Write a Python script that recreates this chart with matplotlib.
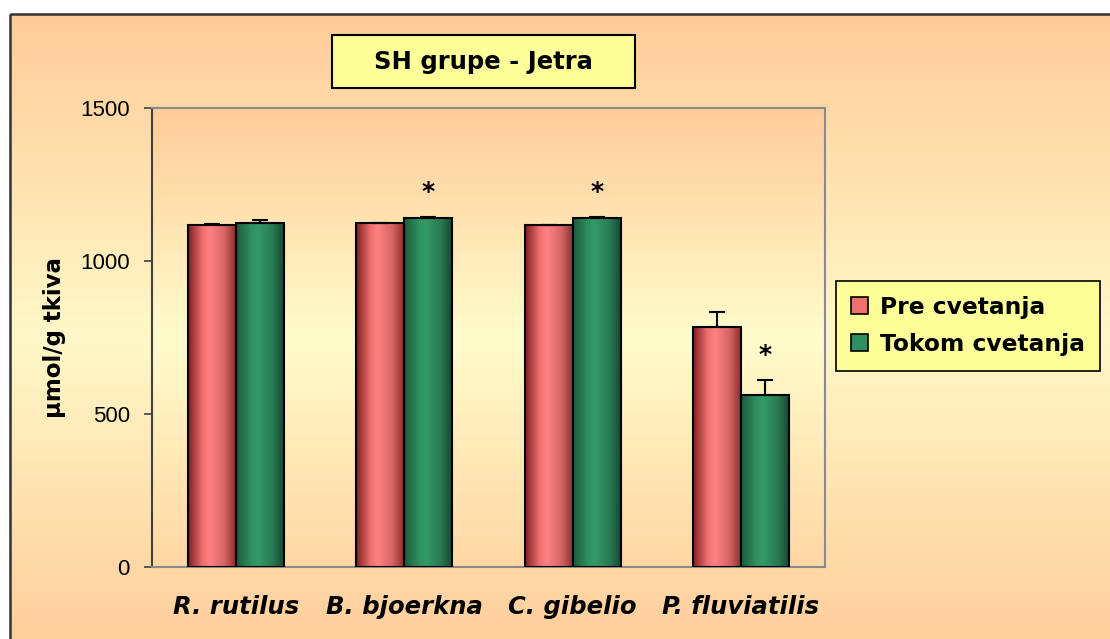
import numpy as np
import matplotlib
matplotlib.use('Agg')
import matplotlib.pyplot as plt
from matplotlib.colors import LinearSegmentedColormap
from matplotlib.patches import Rectangle, Patch

species = ['R. rutilus', 'B. bjoerkna', 'C. gibelio', 'P. fluviatilis']
series_names = ['Pre cvetanja', 'Tokom cvetanja']
pre_vals = [1117, 1123, 1117, 784]
pre_err = [5, 2, 2, 49]
tokom_vals = [1123, 1141, 1141, 563]
tokom_err = [10, 2, 2, 49]
significant = [False, True, True, True]   # star over the "Tokom" bar
yticks = [0, 500, 1000, 1500]

W, H = 1110, 639
fig = plt.figure(figsize=(W / 100, H / 100), dpi=100)
fig.patch.set_facecolor('white')

# chart area background: orange -> pale yellow -> orange
bg_cmap = LinearSegmentedColormap.from_list(
    'bg', [(0, '#ffcc99'), (0.5, '#fff8c8'), (1, '#ffcc99')])
ax_bg = fig.add_axes([0, 0, 1, 1], zorder=0)
ax_bg.set_xlim(0, W)
ax_bg.set_ylim(H, 0)
ax_bg.axis('off')
ax_bg.imshow(np.linspace(0, 1, 256).reshape(-1, 1), extent=(10, W + 20, 660, 14),
             aspect='auto', cmap=bg_cmap, interpolation='bicubic')
ax_bg.add_patch(Rectangle((10, 14), W + 50, H + 50, fill=False,
                          edgecolor='#333333', lw=1.8))

ax = fig.add_axes([152 / W, 1 - 567 / H, 673 / W, 459 / H], zorder=1)
ax.patch.set_visible(False)

plot_cmap = LinearSegmentedColormap.from_list(
    'plot', [(0, '#ffcc99'), (0.5, '#fffccc'), (1, '#ffd7a4')])
ax.imshow(np.linspace(0, 1, 256).reshape(-1, 1), extent=(0, 4, 0, 1500),
          aspect='auto', cmap=plot_cmap, interpolation='bicubic', zorder=0)

red_cmap = LinearSegmentedColormap.from_list(
    'red', [(0, '#7e1e1e'), (0.3, '#f07070'), (0.45, '#ff8282'),
            (0.75, '#d46464'), (1, '#8a2a2a')])
green_cmap = LinearSegmentedColormap.from_list(
    'green', [(0, '#1c5a3a'), (0.3, '#2e8f5f'), (0.45, '#349a67'),
              (0.75, '#287a52'), (1, '#164430')])

x = np.arange(len(species)) + 0.5
bw = 0.286
hgrad = np.linspace(0, 1, 256).reshape(1, -1)


def shaded_bars(xpos, vals, err, cmap, label):
    bars = ax.bar(xpos, vals, width=bw, facecolor='none', edgecolor='black',
                  lw=1.5, zorder=3, label=label)
    for b in bars:
        im = ax.imshow(hgrad, extent=(b.get_x(), b.get_x() + b.get_width(), 0, b.get_height()),
                       aspect='auto', cmap=cmap, interpolation='bicubic', zorder=2)
        im.set_clip_path(b)
    ax.errorbar(xpos, vals, yerr=[np.zeros(len(vals)), err], fmt='none',
                ecolor='black', elinewidth=1.5, capsize=5.5, capthick=1.5, zorder=4)
    return bars


shaded_bars(x - bw / 2, pre_vals, pre_err, red_cmap, series_names[0])
shaded_bars(x + bw / 2, tokom_vals, tokom_err, green_cmap, series_names[1])

for xi, v, e, s in zip(x + bw / 2, tokom_vals, tokom_err, significant):
    if s:
        ax.text(xi, v + e + 82, '*', ha='center', va='center',
                fontsize=18, fontweight='bold', fontfamily='DejaVu Sans', zorder=5)

ax.set_xlim(0, 4)
ax.set_ylim(0, 1500)
ax.set_yticks(yticks)
ax.set_yticklabels([str(t) for t in yticks], fontsize=16, fontfamily='Liberation Sans')
ax.tick_params(axis='y', length=6, width=1.2, color='#404040', pad=10)
ax.set_xticks(x)
ax.set_xticklabels(species, fontsize=17.5, fontweight='bold', fontstyle='italic',
                   fontfamily='DejaVu Sans')
ax.tick_params(axis='x', length=0, pad=20)

ax.spines['left'].set_color('#404040')
ax.spines['left'].set_linewidth(1.5)
for side in ['top', 'right', 'bottom']:
    ax.spines[side].set_color('#8a8a8a')
    ax.spines[side].set_linewidth(1.5)

ax.set_ylabel('µmol/g tkiva', fontsize=16.5, fontweight='bold',
              fontfamily='DejaVu Sans', labelpad=10)

handles = [Patch(facecolor='#f07070', edgecolor='black', lw=1.2),
           Patch(facecolor='#2e8f5f', edgecolor='black', lw=1.2)]
leg = ax.legend(handles, series_names, loc='center',
                bbox_to_anchor=(968 / W, 1 - 326 / H), bbox_transform=fig.transFigure,
                prop={'family': 'DejaVu Sans', 'weight': 'bold', 'size': 16.8},
                fancybox=False, framealpha=1, facecolor='#ffff99', edgecolor='black',
                handlelength=0.75, handleheight=0.75, handletextpad=0.5,
                labelspacing=0.6, borderpad=0.65)
leg.get_frame().set_linewidth(1.2)

# title box
fig.patches.append(Rectangle((332 / W, 1 - 88 / H), 303 / W, 53 / H,
                             transform=fig.transFigure, facecolor='#ffff99',
                             edgecolor='black', lw=1.5, zorder=5))
fig.text(483.5 / W, 1 - 62 / H, 'SH grupe - Jetra', ha='center', va='center',
         fontsize=17.5, fontweight='bold', fontfamily='DejaVu Sans', zorder=6)

fig.savefig('out.png', dpi=100)
